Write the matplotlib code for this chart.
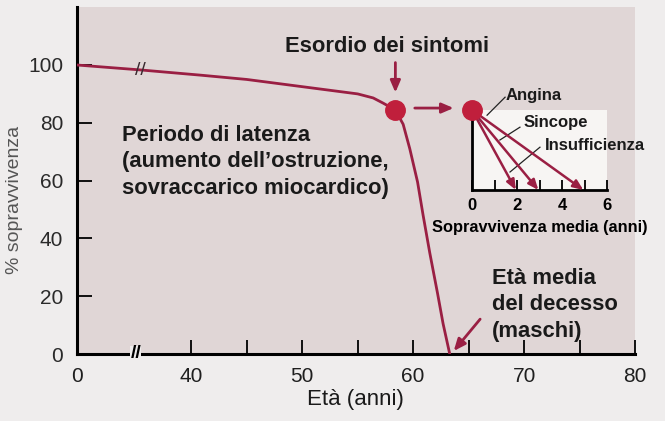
import numpy as np
import matplotlib
matplotlib.use("Agg")
import matplotlib.pyplot as plt

plt.rcParams['font.family'] = ['Liberation Sans', 'DejaVu Sans']

# ---- data ----
ages = [0, 35.4, 40.8, 45, 49, 52, 55, 56.4, 57.3, 58.4, 59.1, 59.7, 60.4, 60.9, 61.5, 62.2, 62.7, 63.3]
survival = [100, 98.3, 96.5, 95.0, 93.0, 91.5, 90.0, 88.6, 86.8, 84.4, 79.5, 71.0, 59.5, 48, 35, 21, 10.5, 0]
onset_age, onset_surv = 58.4, 84.4
death_age = 63.3
x_ticks = [0, 40, 50, 60, 70, 80]
x_tick_labels = ["0", "40", "50", "60", "70", "80"]
x_minor = [45, 55, 65, 75]
y_ticks = [0, 20, 40, 60, 80, 100]
inset_labels = ["Angina", "Sincope", "Insufficienza"]
inset_survival_years = [5, 3, 2]
inset_ticks = [0, 2, 4, 6]

CURVE = '#9a1f43'
DOT = '#c01f3c'
PINK = '#e0d6d6'
BG = '#efeded'

# piecewise scale compressing 0..30 years (axis break)
def fwd(x):
    x = np.asarray(x, dtype=float)
    return np.where(x < 30, 30 + (x - 30) * 0.01, x)

def inv(y):
    y = np.asarray(y, dtype=float)
    return np.where(y < 30, 30 + (y - 30) * 100, y)

fig = plt.figure(figsize=(6.65, 4.21), dpi=100, facecolor=BG)
ax = fig.add_axes([77/665, 1 - 354/421, 558/665, 346.8/421], facecolor=PINK)
ax.set_xscale('function', functions=(fwd, inv))
ax.set_xlim(0, 80)
ax.set_ylim(0, 120)

for s in ['top', 'right']:
    ax.spines[s].set_visible(False)
for s in ['left', 'bottom']:
    ax.spines[s].set_linewidth(2.2)

ax.set_xticks(x_ticks)
ax.set_xticklabels(x_tick_labels)
ax.set_xticks(x_minor, minor=True)
ax.set_yticks(y_ticks)
ax.tick_params(axis='x', which='both', direction='in', length=10, width=1.3, pad=9, labelsize=15,
               labelcolor='#1f1f1f')
ax.tick_params(axis='y', direction='in', length=11, width=1.3, pad=10, labelsize=15,
               labelcolor='#2a2a2a')

ax.plot(ages, survival, color=CURVE, lw=2.0, solid_capstyle='round', solid_joinstyle='round', zorder=3)
ax.plot([onset_age], [onset_surv], 'o', color=DOT, ms=14, zorder=4)

# break marks
ax.text(35.4, 98.2, '//', color='#3a2a30', fontsize=14, ha='center', va='center', zorder=5)
ax.text(35, 0, '//', color='black', fontsize=14, fontweight='bold', ha='center', va='center',
        zorder=6, clip_on=False,
        bbox=dict(boxstyle='square,pad=0.0', fc=BG, ec='none'))

# annotations
bold = dict(fontweight='bold', color='#1a1a1a')
FS = 15.8
ax.text(57.6, 106.5, 'Esordio dei sintomi', fontsize=FS, ha='center', va='center', **bold)
ax.annotate('', xy=(onset_age, 89.5), xytext=(onset_age, 101.8),
            arrowprops=dict(arrowstyle='-|>,head_length=0.7,head_width=0.3', color=CURVE, lw=2))
ax.annotate('', xy=(63.9, 85.1), xytext=(59.9, 85.1),
            arrowprops=dict(arrowstyle='-|>,head_length=0.7,head_width=0.3', color=CURVE, lw=2))
ax.text(33.8, 66.5, "Periodo di latenza\n(aumento dell\u2019ostruzione,\nsovraccarico miocardico)",
        fontsize=FS, ha='left', va='center', linespacing=1.35, **bold)
ax.text(67.1, 17, "Et\u00e0 media\ndel decesso\n(maschi)", fontsize=FS, ha='left', va='center',
        linespacing=1.35, **bold)
ax.annotate('', xy=(death_age + 0.2, 0.3), xytext=(66.2, 12.8),
            arrowprops=dict(arrowstyle='-|>,head_length=0.7,head_width=0.3', color=CURVE, lw=2))

fig.text(15/665, 1 - 200/421, '% sopravvivenza', rotation=90, ha='center', va='center',
         fontsize=14, color='#555555')
fig.text(355/665, 1 - 399/421, 'Et\u00e0 (anni)', ha='center', va='center', fontsize=16, color='#1a1a1a')

# ---- inset ----
axi = fig.add_axes([472/665, 1 - 190/421, 135/665, 80/421], facecolor='#f7f5f3')
axi.set_xlim(0, 6)
axi.set_ylim(0, 100)
for s in ['top', 'right']:
    axi.spines[s].set_visible(False)
for s in ['left', 'bottom']:
    axi.spines[s].set_linewidth(2)
axi.set_yticks([])
axi.set_xticks(range(0, 7))
axi.set_xticklabels([str(t) if t in inset_ticks else '' for t in range(0, 7)])
axi.tick_params(axis='x', direction='in', length=7, width=1.3, pad=6, labelsize=12)
for lab in axi.get_xticklabels():
    lab.set_fontweight('bold')
axi.set_xlabel('Sopravvivenza media (anni)', fontsize=11.8, fontweight='bold', labelpad=5)

for yrs in inset_survival_years:
    axi.annotate('', xy=(yrs - 0.05, 0), xytext=(0, 100),
                 arrowprops=dict(arrowstyle='-|>,head_length=0.6,head_width=0.25', color=CURVE,
                                 lw=1.8, shrinkA=0, shrinkB=0), annotation_clip=False)
axi.plot([0], [100], 'o', color=DOT, ms=14, clip_on=False, zorder=5)

# leader lines + labels
label_pos = [(1.51, 118.5), (2.27, 85), (3.24, 56)]
leader_start = [(0.67, 93.5), (1.24, 62.5), (1.69, 22.5)]
leader_end = [(1.47, 116), (2.13, 78.5), (3.02, 53.5)]
for lab, (tx, ty), (sx, sy), (ex, ey) in zip(inset_labels, label_pos, leader_start, leader_end):
    axi.plot([sx, ex], [sy, ey], color='#222222', lw=0.9, clip_on=False)
    axi.text(tx, ty, lab, fontsize=12, fontweight='bold', ha='left', va='center',
             color='#1a1a1a', clip_on=False)

fig.savefig('out.png', dpi=100, facecolor=BG)
